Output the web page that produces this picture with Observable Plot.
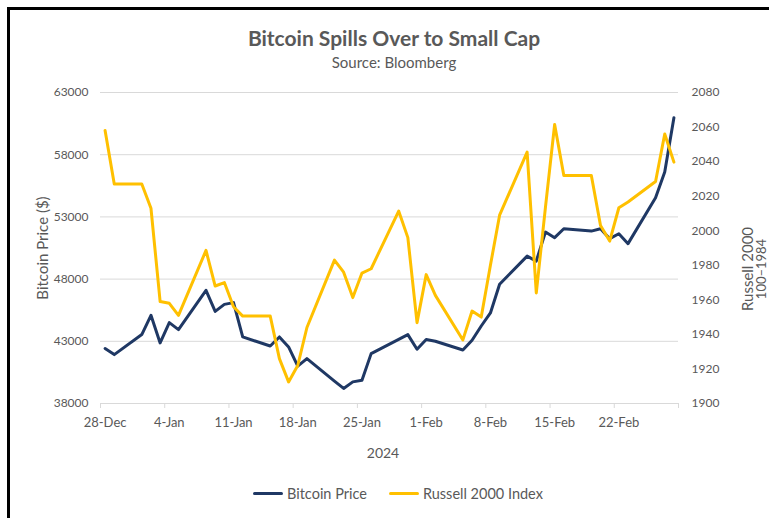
<!DOCTYPE html>
<html><head><meta charset="utf-8">
<script src="https://cdn.jsdelivr.net/npm/d3@7"></script>
<script src="https://cdn.jsdelivr.net/npm/@observablehq/plot@0.6"></script>
<style>
body{margin:0;background:#fff;font-family:Lato,sans-serif;color:#595959;width:769px;height:518px;overflow:hidden;position:relative;}
#frame{position:absolute;left:7px;top:7px;width:800px;height:540px;border:3px solid #000;box-sizing:border-box;}
.t{position:absolute;white-space:nowrap;}
#title{left:0;width:788px;text-align:center;top:25px;font-size:21px;font-weight:bold;color:#595959;}
#sub{left:0;width:788px;text-align:center;top:53px;font-size:15px;}
#chart{position:absolute;left:0;top:80px;}
.rot{transform:translate(-50%,-50%) rotate(-90deg);font-size:15px;}
#legend{position:absolute;top:485px;left:253px;display:flex;align-items:center;font-size:14.5px;}
.sw{display:inline-block;width:30px;height:3px;margin-right:4px;border-radius:2px;}
</style></head><body>
<div id="title" class="t">Bitcoin Spills Over to Small Cap</div>
<div id="sub" class="t">Source: Bloomberg</div>
<div id="chart"></div>
<div class="t rot" style="left:42px;top:248px;">Bitcoin Price ($)</div>
<div class="t rot" style="left:747px;top:269px;">Russell 2000</div>
<div class="t rot" style="left:761px;top:269px;font-size:13px;">100–1984</div>
<div class="t" style="left:383px;top:452px;transform:translate(-50%,-50%);font-size:14px;">2024</div>
<div id="legend"><span class="sw" style="background:#1F3864"></span><span>Bitcoin Price</span><span class="sw" style="background:#FFC000;margin-left:22px"></span><span>Russell 2000 Index</span></div>
<div id="frame"></div>
<script>
const dates = ["2023-12-28","2023-12-29","2024-01-01","2024-01-02","2024-01-03","2024-01-04","2024-01-05",
"2024-01-08","2024-01-09","2024-01-10","2024-01-11","2024-01-12",
"2024-01-15","2024-01-16","2024-01-17","2024-01-18","2024-01-19",
"2024-01-22","2024-01-23","2024-01-24","2024-01-25","2024-01-26",
"2024-01-29","2024-01-30","2024-01-31","2024-02-01","2024-02-02",
"2024-02-05","2024-02-06","2024-02-07","2024-02-08","2024-02-09",
"2024-02-12","2024-02-13","2024-02-14","2024-02-15","2024-02-16",
"2024-02-19","2024-02-20","2024-02-21","2024-02-22","2024-02-23",
"2024-02-26","2024-02-27","2024-02-28"];
const bitcoin = [42420,41930,43540,45090,42870,44500,43940,
47100,45410,45970,46110,43350,
42620,43350,42550,41000,41610,
39800,39210,39740,39870,42010,
43150,43540,42360,43140,43000,
42300,43080,44230,45280,47580,
49850,49450,51780,51330,52050,
51860,52050,51250,51650,50850,
54540,56600,60970];
const russell = [2058,2027,2027,2013,1959,1958,1951,
1988.6,1968,1970,1956,1950.6,
1950.6,1926,1912.5,1922,1944,
1983,1976,1961.3,1975.5,1978,
2011.4,1996,1946.8,1974.6,1962.6,
1936.8,1953.5,1950,1980,2009,
2045.5,1964,2013.7,2061.5,2032,
2032,2003,1994,2013.3,2016.6,
2028.5,2056,2039.7];
const xTickDates = ["2023-12-28","2024-01-04","2024-01-11","2024-01-18","2024-01-25","2024-02-01","2024-02-08","2024-02-15","2024-02-22"];
const xEnd = "2024-02-29";
const leftTicks = [38000,43000,48000,53000,58000,63000];
const rightTicks = [1900,1920,1940,1960,1980,2000,2020,2040,2060,2080];

const toLeft = r => 38000 + (r - 1900) * 25000 / 180;
const toRight = b => Math.round(1900 + (b - 38000) * 180 / 25000);
const noon = s => new Date(s + "T12:00:00Z");
const mid = s => new Date(s + "T00:00:00Z");
const fmt = d3.utcFormat("%-d-%b");

const btc = dates.map((d, i) => ({date: noon(d), v: bitcoin[i]}));
const rus = dates.map((d, i) => ({date: noon(d), v: toLeft(russell[i])}));

const chart = Plot.plot({
  width: 769, height: 390,
  marginTop: 12, marginBottom: 67, marginLeft: 100, marginRight: 91,
  x: {type: "utc", domain: [mid("2023-12-28"), mid(xEnd)]},
  y: {domain: [38000, 63000]},
  style: {fontFamily: "Lato, sans-serif", fontSize: "12px", color: "#595959", background: "transparent", overflow: "visible"},
  marks: [
    Plot.gridY(leftTicks, {stroke: "#d9d9d9", strokeOpacity: 1, strokeWidth: 1}),
    Plot.axisY(leftTicks, {anchor: "left", tickSize: 0, tickPadding: 12, label: null, tickFormat: d => String(d), fill: "#595959"}),
    Plot.axisY(rightTicks.map(toLeft), {anchor: "right", tickSize: 0, tickPadding: 13, label: null, tickFormat: d => String(toRight(d)), fill: "#595959"}),
    Plot.axisX(xTickDates.concat([xEnd]).map(mid), {tickSize: 5, tickFormat: () => "", stroke: "#d9d9d9", strokeOpacity: 1, label: null}),
    Plot.axisX(xTickDates.map(noon), {tickSize: 0, tickPadding: 14, tickFormat: fmt, label: null, fill: "#595959", fontSize: 13}),
    Plot.line(btc, {x: "date", y: "v", stroke: "#1F3864", strokeWidth: 3, strokeLinejoin: "round", strokeLinecap: "round"}),
    Plot.line(rus, {x: "date", y: "v", stroke: "#FFC000", strokeWidth: 3, strokeLinejoin: "round", strokeLinecap: "round"})
  ]
});
document.getElementById("chart").appendChild(chart);
</script>
</body></html>
